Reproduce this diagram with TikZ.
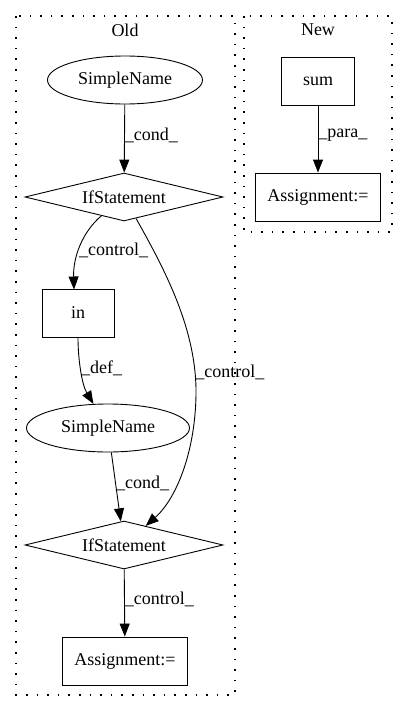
\documentclass[tikz,border=0pt]{standalone}
\usepackage{fontspec}
\setmainfont{Liberation Serif}
\usetikzlibrary{shapes.geometric, arrows.meta}

\begin{document}
\begin{tikzpicture}[x=1pt, y=-1pt, font=\fontsize{18}{21}\selectfont, line width=0.9pt,
  cluster/.style={draw, line width=1.3pt, dash pattern=on 1.6pt off 9pt},
  box/.style={draw, minimum height=48pt, inner sep=0pt},
  oval/.style={draw, ellipse, minimum width=155pt, minimum height=48pt, inner sep=0pt},
  cond/.style={draw, diamond, aspect=4.1, minimum width=198pt, minimum height=48pt, inner sep=0pt},
  edge/.style={-{Triangle[length=13pt,width=10pt]}},
  lbl/.style={anchor=west, inner sep=0pt}]
\useasboundingbox (0, 0) rectangle (408, 712);
\draw[cluster] (16, 16) rectangle (235, 695);
\draw[cluster] (244, 16) rectangle (392, 232);
\node (old) at (125, 30) {Old};
\node (new) at (318, 30) {New};
\node[oval] (sn1) at (125, 80) {SimpleName};
\node[cond] (if1) at (124, 197) {IfStatement};
\node[box, minimum width=72pt] (in) at (78, 313) {in};
\node[oval, minimum width=163pt] (sn2) at (108, 428) {SimpleName};
\node[cond] (if2) at (124, 545) {IfStatement};
\node[box, minimum width=125pt] (asg1) at (125, 661) {Assignment:=};
\node[box, minimum width=73pt] (sum) at (318, 81) {sum};
\node[box, minimum width=125pt] (asg2) at (318, 197) {Assignment:=};
\draw[edge] (sn1) -- (if1) node[lbl, pos=0.45] {\_cond\_};
\draw[edge] (if1) .. controls (82, 232) and (73, 258) .. (74, 289.5) node[lbl, pos=0.55] {\_control\_};
\draw[edge] (if1) .. controls (165, 270) and (197, 330) .. (196, 395) .. controls (195, 455) and (175, 500) .. (if2);
\node[lbl] (ctl2) at (195, 372) {\_control\_};
\draw[edge] (in) .. controls (78, 360) and (82, 385) .. (sn2) node[lbl, pos=0.45] {\_def\_};
\draw[edge] (sn2) -- (if2) node[lbl, pos=0.45] {\_cond\_};
\draw[edge] (if2) -- (asg1) node[lbl, pos=0.45] {\_control\_};
\draw[edge] (sum) -- (asg2) node[lbl, pos=0.45] {\_para\_};
\end{tikzpicture}
\end{document}
